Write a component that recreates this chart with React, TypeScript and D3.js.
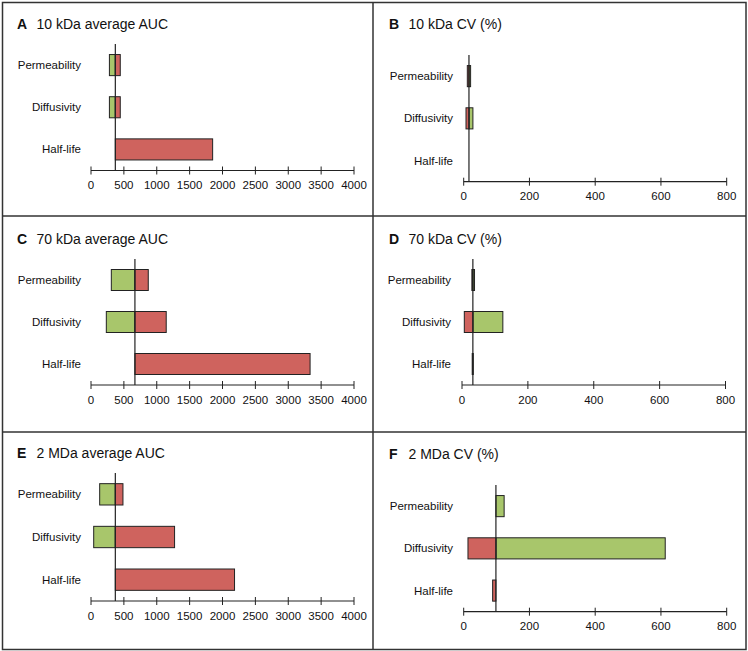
import React from 'react';
import * as d3 from 'd3';

// ---------- DATA ----------
const categories = ['Permeability', 'Diffusivity', 'Half-life'];
const panelLetters = ['A', 'B', 'C', 'D', 'E', 'F'];
const panelTitles = [
  '10 kDa average AUC',
  '10 kDa CV (%)',
  '70 kDa average AUC',
  '70 kDa CV (%)',
  '2 MDa average AUC',
  '2 MDa CV (%)',
];
const baselines = [370, 16, 668, 33, 370, 98];
// green = low-end bar, red = high-end bar (per category)
const greenValues = [
  [280, 280, 370],
  [21, 28, 16],
  [309, 233, 668],
  [38, 124, 34],
  [132, 41, 370],
  [123, 613, 98],
];
const redValues = [
  [445, 445, 1850],
  [11, 7, 16],
  [871, 1144, 3332],
  [30, 7, 31],
  [486, 1271, 2183],
  [98, 13, 88],
];
const aucTicks = [0, 500, 1000, 1500, 2000, 2500, 3000, 3500, 4000];
const cvTicks = [0, 200, 400, 600, 800];

// ---------- LAYOUT ----------
const W = 748;
const H = 651;
const GREEN = '#a8c66b';
const RED = '#cf635e';
const FONT = 'Liberation Sans, Arial, Helvetica, sans-serif';

type Layout = { x0: number; x1: number; top: number; axisY: number; labelX: number; titleX: number; titleY: number; ticks: number[] };
const layouts: Layout[] = [
  { x0: 91, x1: 354, top: 44, axisY: 170.5, labelX: 81, titleX: 17, titleY: 29, ticks: aucTicks },
  { x0: 463.7, x1: 726.7, top: 55, axisY: 181.7, labelX: 453, titleX: 389, titleY: 29, ticks: cvTicks },
  { x0: 91, x1: 354, top: 259, axisY: 385, labelX: 81, titleX: 17, titleY: 244, ticks: aucTicks },
  { x0: 462, x1: 725.5, top: 259, axisY: 385, labelX: 451, titleX: 389, titleY: 244, ticks: cvTicks },
  { x0: 91, x1: 354, top: 473, axisY: 601, labelX: 81, titleX: 17, titleY: 458, ticks: aucTicks },
  { x0: 463.7, x1: 726.7, top: 485, axisY: 611.7, labelX: 453, titleX: 389, titleY: 459, ticks: cvTicks },
];

function Panel({ i }: { i: number }) {
  const L = layouts[i];
  const ticks = L.ticks;
  const x = d3.scaleLinear().domain([ticks[0], ticks[ticks.length - 1]]).range([L.x0, L.x1]);
  const y = d3.scaleBand<string>().domain(categories).range([L.top, L.axisY]).paddingInner(0.5).paddingOuter(0.25);
  const base = baselines[i];
  const bw = y.bandwidth();

  const bar = (v: number, color: string, key: string, cat: string) => {
    const a = x(Math.min(v, base));
    const b = x(Math.max(v, base));
    if (b - a < 0.01) return null;
    return (
      <rect key={key} x={a} y={y(cat)!} width={b - a} height={bw} fill={color} stroke="#222" strokeWidth={1} />
    );
  };

  return (
    <g>
      <text x={L.titleX} y={L.titleY} fontFamily={FONT} fontSize={14} fill="#111">
        <tspan fontWeight="bold">{panelLetters[i]}</tspan>
        <tspan x={L.titleX + 19.5}>{panelTitles[i]}</tspan>
      </text>
      {categories.map((c) => (
        <text key={c} x={L.labelX} y={y(c)! + bw / 2} dy="0.35em" textAnchor="end" fontFamily={FONT} fontSize={11.5} fill="#111">
          {c}
        </text>
      ))}
      {categories.map((c, k) => (
        <g key={'b' + c}>
          {bar(greenValues[i][k], GREEN, 'g', c)}
          {bar(redValues[i][k], RED, 'r', c)}
        </g>
      ))}
      <line x1={x(base)} x2={x(base)} y1={L.top} y2={L.axisY} stroke="#222" strokeWidth={1.2} />
      <line x1={L.x0} x2={L.x1} y1={L.axisY} y2={L.axisY} stroke="#222" strokeWidth={1.2} />
      {ticks.map((t) => (
        <g key={t}>
          <line x1={x(t)} x2={x(t)} y1={L.axisY - 4} y2={L.axisY + 4} stroke="#222" strokeWidth={1} />
          <text x={x(t)} y={L.axisY + 18.5} textAnchor="middle" fontFamily={FONT} fontSize={11.5} fill="#111">
            {t}
          </text>
        </g>
      ))}
    </g>
  );
}

export default function App() {
  return (
    <svg width={W} height={H} style={{ position: 'absolute', left: 0, top: 0, background: '#fff' }}>
      <rect x={0} y={0} width={W} height={H} fill="#fff" />
      {panelLetters.map((_, i) => (
        <Panel key={i} i={i} />
      ))}
      <rect x={2.5} y={2.5} width={743.5} height={647} fill="none" stroke="#333" strokeWidth={1.5} />
      <line x1={373} x2={373} y1={2.5} y2={649.5} stroke="#333" strokeWidth={1.5} />
      <line x1={2.5} x2={746} y1={216} y2={216} stroke="#333" strokeWidth={1.5} />
      <line x1={2.5} x2={746} y1={432} y2={432} stroke="#333" strokeWidth={1.5} />
    </svg>
  );
}
